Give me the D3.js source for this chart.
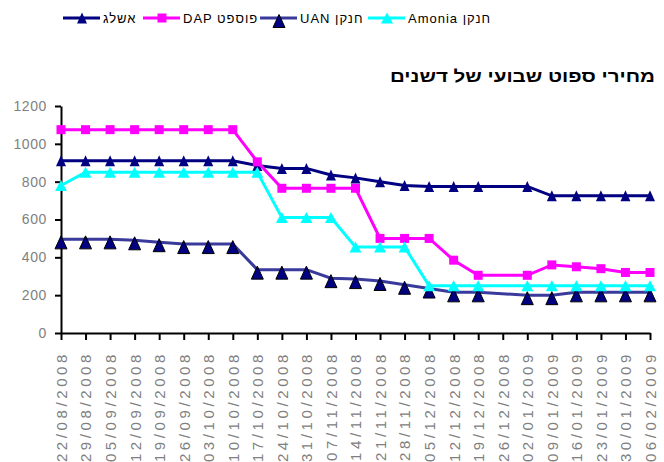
<!DOCTYPE html>
<html>
<head>
<meta charset="utf-8">
<script src="https://cdn.jsdelivr.net/npm/d3@7"></script>
<style>
  body { margin: 0; background: #fff; }
</style>
</head>
<body>
<div id="chart"></div>
<script>
// Data
// =================================
const dates = ["22/08/2008", "29/08/2008", "05/09/2008", "12/09/2008", "19/09/2008",
  "26/09/2008", "03/10/2008", "10/10/2008", "17/10/2008", "24/10/2008", "31/10/2008",
  "07/11/2008", "14/11/2008", "21/11/2008", "28/11/2008", "05/12/2008", "12/12/2008",
  "19/12/2008", "26/12/2008", "02/01/2009", "09/01/2009", "16/01/2009", "23/01/2009",
  "30/01/2009", "06/02/2009"];

// 26/12 has no quote in any series
const potash = [910, 910, 910, 910, 910, 910, 910, 910, 885, 870, 870, 835, 820, 800,
  780, 775, 775, 775, null, 775, 725, 725, 725, 725, 725];
const dap = [1075, 1075, 1075, 1075, 1075, 1075, 1075, 1075, 905, 765, 765, 765, 765,
  500, 500, 500, 385, 305, null, 305, 360, 350, 340, 320, 320];
const uan = [495, 495, 495, 490, 480, 470, 470, 470, 335, 335, 335, 290, 285, 275,
  255, 235, 215, 215, null, 200, 200, 215, 215, 215, 215];
const ammonia = [780, 850, 850, 850, 850, 850, 850, 850, 850, 610, 610, 610, 455, 455,
  455, 250, 250, 250, null, 250, 250, 250, 250, 250, 250];

const yTicks = [0, 200, 400, 600, 800, 1000, 1200];
const title = "מחירי ספוט שבועי של דשנים";

const series = [
  { name: "אשלג", values: potash, line: "#000080", fill: "#000080", stroke: "none", marker: "tri", w: 10, h: 11, dy: 0 },
  { name: "DAP פוספט", values: dap, line: "#ff00ff", fill: "#ff00ff", stroke: "none", marker: "square", w: 9, h: 9, dy: 0 },
  { name: "UAN חנקן", values: uan, line: "#3a3a9c", fill: "#000080", stroke: "#000", marker: "tri", w: 12, h: 13, dy: 3 },
  { name: "Amonia חנקן", values: ammonia, line: "#00ffff", fill: "#00ffff", stroke: "none", marker: "tri", w: 12, h: 11, dy: 0 }
];

// Chart setup
// =================================
const svgWidth = 664;
const svgHeight = 462;
const plot = { left: 61, right: 650, top: 106, bottom: 333 };

const svg = d3.select("#chart")
  .append("svg")
  .attr("width", svgWidth)
  .attr("height", svgHeight)
  .style("font-family", "'Liberation Sans', Arial, sans-serif");

const xScale = d3.scalePoint()
  .domain(dates)
  .range([plot.left, plot.right]);

const yScale = d3.scaleLinear()
  .domain([0, 1200])
  .range([plot.bottom, plot.top]);

function markerPath(s) {
  if (s.marker === "square") {
    return `M${-s.w / 2},${-s.h / 2}h${s.w}v${s.h}h${-s.w}Z`;
  }
  return `M0,${-s.h / 2}L${s.w / 2},${s.h / 2}L${-s.w / 2},${s.h / 2}Z`;
}

// Axes
// =================================
const yAxis = svg.append("g")
  .attr("transform", `translate(${plot.left},0)`)
  .call(d3.axisLeft(yScale).tickValues(yTicks).tickFormat(d3.format("d"))
    .tickSize(6).tickSizeOuter(0).tickPadding(8));

const xAxis = svg.append("g")
  .attr("transform", `translate(0,${plot.bottom})`)
  .call(d3.axisBottom(xScale).tickSize(7).tickSizeOuter(0).tickPadding(0));

[yAxis, xAxis].forEach(g => {
  g.select(".domain").attr("stroke", "#000").attr("stroke-width", 2);
  g.selectAll(".tick line").attr("stroke", "#000").attr("stroke-width", 2);
});

yAxis.selectAll("text")
  .attr("fill", "#808080")
  .style("font-size", "14px")
  .style("letter-spacing", "0.6px");

xAxis.selectAll("text")
  .attr("fill", "#808080")
  .style("font-size", "15px")
  .style("letter-spacing", "3.6px")
  .style("text-anchor", "end")
  .attr("transform", "rotate(-90)")
  .attr("x", -18)
  .attr("y", 0)
  .attr("dy", "0.36em");

// Lines and markers
// =================================
const line = d3.line()
  .x(d => xScale(d.date))
  .y(d => yScale(d.value));

series.forEach(s => {
  const pts = dates.map((date, i) => ({ date, value: s.values[i] }))
    .filter(d => d.value != null);

  svg.append("path")
    .datum(pts)
    .attr("fill", "none")
    .attr("stroke", s.line)
    .attr("stroke-width", 3)
    .attr("d", line);

  svg.selectAll(null)
    .data(pts)
    .enter()
    .append("path")
    .attr("d", markerPath(s))
    .attr("transform", d => `translate(${xScale(d.date)},${yScale(d.value) + s.dy})`)
    .attr("fill", s.fill)
    .attr("stroke", s.stroke)
    .attr("stroke-width", 1);
});

// Legend
// =================================
const legendX = [63, 143, 260, 368];
const legendY = 18;

const legend = svg.append("g");
series.forEach((s, i) => {
  const g = legend.append("g").attr("transform", `translate(${legendX[i]},${legendY})`);
  g.append("line")
    .attr("x1", 0).attr("x2", 37)
    .attr("stroke", s.line)
    .attr("stroke-width", 3);
  g.append("path")
    .attr("d", markerPath(s))
    .attr("transform", `translate(19,${s.dy})`)
    .attr("fill", s.fill)
    .attr("stroke", s.stroke);
  g.append("text")
    .attr("x", 40)
    .attr("dy", "0.35em")
    .style("font-size", "13px")
    .style("letter-spacing", "1px")
    .text(s.name);
});

// Title
// =================================
svg.append("text")
  .attr("x", 655)
  .attr("y", 82)
  .attr("text-anchor", "end")
  .attr("textLength", 265)
  .attr("lengthAdjust", "spacingAndGlyphs")
  .style("font-size", "17px")
  .style("font-weight", "bold")
  .text(title);
</script>
</body>
</html>
